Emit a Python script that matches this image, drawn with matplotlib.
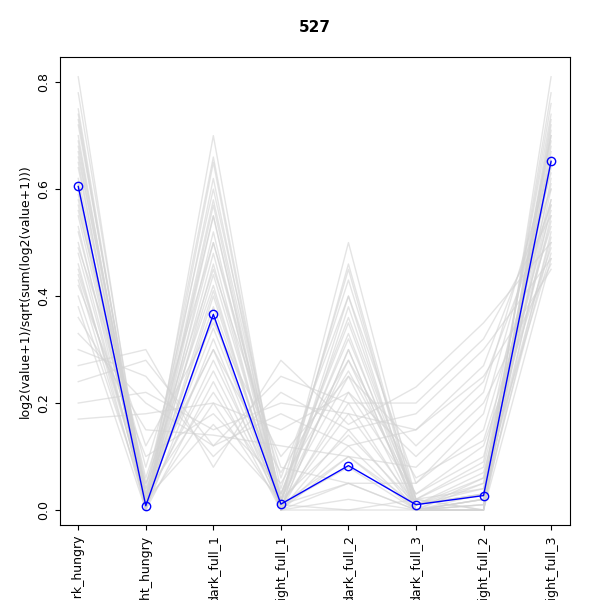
import matplotlib
matplotlib.use('Agg')
import matplotlib.pyplot as plt
import numpy as np

categories = ['dark_hungry', 'light_hungry', 'dark_full_1', 'light_full_1',
              'dark_full_2', 'dark_full_3', 'light_full_2', 'light_full_3']

highlight = [0.605, 0.008, 0.366, 0.011, 0.083, 0.010, 0.027, 0.652]

# background profiles (estimated by eye)
others = [
    [0.81, 0.00, 0.70, 0.00, 0.00, 0.00, 0.00, 0.81],
    [0.78, 0.02, 0.66, 0.01, 0.05, 0.00, 0.02, 0.78],
    [0.75, 0.00, 0.62, 0.00, 0.10, 0.01, 0.03, 0.76],
    [0.73, 0.01, 0.58, 0.02, 0.45, 0.00, 0.05, 0.74],
    [0.72, 0.03, 0.55, 0.01, 0.50, 0.02, 0.00, 0.72],
    [0.70, 0.00, 0.52, 0.00, 0.40, 0.00, 0.01, 0.70],
    [0.68, 0.02, 0.50, 0.03, 0.35, 0.01, 0.04, 0.69],
    [0.67, 0.01, 0.48, 0.00, 0.30, 0.00, 0.02, 0.68],
    [0.65, 0.00, 0.46, 0.01, 0.00, 0.02, 0.00, 0.66],
    [0.64, 0.02, 0.44, 0.02, 0.25, 0.00, 0.06, 0.65],
    [0.62, 0.05, 0.42, 0.00, 0.38, 0.01, 0.03, 0.64],
    [0.60, 0.00, 0.40, 0.01, 0.20, 0.00, 0.01, 0.62],
    [0.58, 0.03, 0.38, 0.03, 0.32, 0.02, 0.08, 0.61],
    [0.57, 0.01, 0.36, 0.00, 0.15, 0.00, 0.02, 0.60],
    [0.55, 0.02, 0.34, 0.02, 0.28, 0.01, 0.05, 0.58],
    [0.53, 0.00, 0.32, 0.01, 0.10, 0.00, 0.00, 0.57],
    [0.52, 0.04, 0.30, 0.00, 0.22, 0.03, 0.10, 0.56],
    [0.50, 0.01, 0.28, 0.02, 0.33, 0.00, 0.03, 0.55],
    [0.48, 0.02, 0.26, 0.01, 0.18, 0.01, 0.07, 0.54],
    [0.46, 0.00, 0.24, 0.00, 0.12, 0.00, 0.01, 0.52],
    [0.45, 0.03, 0.22, 0.03, 0.36, 0.02, 0.04, 0.51],
    [0.43, 0.01, 0.20, 0.01, 0.08, 0.00, 0.02, 0.50],
    [0.42, 0.10, 0.18, 0.05, 0.26, 0.03, 0.12, 0.49],
    [0.40, 0.02, 0.16, 0.02, 0.14, 0.01, 0.06, 0.48],
    [0.38, 0.00, 0.55, 0.00, 0.05, 0.00, 0.00, 0.47],
    [0.36, 0.15, 0.14, 0.12, 0.10, 0.08, 0.20, 0.46],
    [0.33, 0.20, 0.12, 0.18, 0.12, 0.15, 0.25, 0.45],
    [0.30, 0.25, 0.10, 0.22, 0.15, 0.18, 0.30, 0.47],
    [0.27, 0.30, 0.08, 0.28, 0.16, 0.23, 0.35, 0.50],
    [0.24, 0.28, 0.12, 0.25, 0.20, 0.20, 0.32, 0.55],
    [0.20, 0.22, 0.15, 0.20, 0.18, 0.15, 0.27, 0.60],
    [0.17, 0.18, 0.20, 0.15, 0.22, 0.10, 0.22, 0.65],
    [0.59, 0.06, 0.45, 0.08, 0.05, 0.05, 0.15, 0.58],
    [0.66, 0.04, 0.60, 0.04, 0.43, 0.02, 0.09, 0.70],
    [0.74, 0.00, 0.57, 0.00, 0.30, 0.00, 0.00, 0.73],
    [0.56, 0.08, 0.50, 0.06, 0.40, 0.05, 0.18, 0.63],
    [0.49, 0.12, 0.35, 0.10, 0.25, 0.12, 0.24, 0.57],
    [0.61, 0.00, 0.65, 0.00, 0.02, 0.00, 0.00, 0.71],
    [0.69, 0.01, 0.41, 0.01, 0.46, 0.01, 0.03, 0.67],
    [0.44, 0.05, 0.30, 0.07, 0.28, 0.06, 0.13, 0.53],
]

x = np.arange(1, len(categories) + 1)

fig = plt.figure(figsize=(6, 6), dpi=100)
ax = fig.add_axes([0.1, 0.125, 0.85, 0.78])

for row in others:
    ax.plot(x, row, color='#d3d3d3', lw=1, alpha=0.6)
ax.plot(x, highlight, color='blue', lw=1, marker='o', mfc='none', ms=6, mew=1)

ax.set_xlim(0.73, 8.28)
ax.set_ylim(-0.028, 0.847)
ax.set_xticks(x)
ax.set_xticklabels(categories, rotation=90, fontsize=9, va='top')
ax.set_yticks([0.0, 0.2, 0.4, 0.6, 0.8])
ax.set_yticklabels(['0.0', '0.2', '0.4', '0.6', '0.8'], rotation=90, va='center', fontsize=9)
ax.set_ylabel('log2(value+1)/sqrt(sum(log2(value+1)))', fontsize=9)
ax.set_title('527', fontweight='bold', fontsize=11, pad=18)

plt.savefig('out.png', dpi=100)
